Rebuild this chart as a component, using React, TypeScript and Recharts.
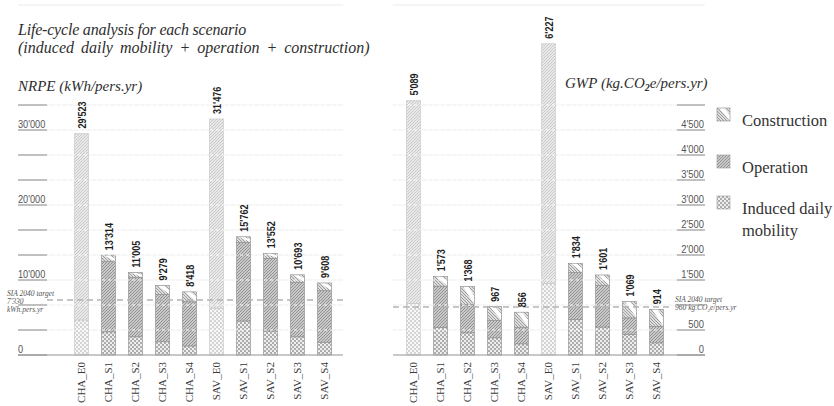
import React from "react";
import {
    BarChart,
    Bar,
    XAxis,
    YAxis,
    CartesianGrid,
    ReferenceLine,
    LabelList,
    Cell,
} from "recharts";

// =========================================
// Data
// =========================================

const scenarios = [
    "CHA_E0",
    "CHA_S1",
    "CHA_S2",
    "CHA_S3",
    "CHA_S4",
    "SAV_E0",
    "SAV_S1",
    "SAV_S2",
    "SAV_S3",
    "SAV_S4",
];

// NRPE, kWh/pers.yr
const nrpeMobility = [4670, 3100, 2450, 1780, 1200, 6220, 4530, 3200, 2440, 1690];
const nrpeOperation = [24853, 9350, 7900, 6300, 5900, 25256, 10490, 9690, 7250, 6880];
const nrpeConstruction = [0, 864, 655, 1199, 1318, 0, 742, 662, 1003, 1038];

// GWP, kg.CO2e/pers.yr
const gwpMobility = [1030, 550, 445, 345, 225, 1430, 710, 560, 410, 245];
const gwpOperation = [4059, 826, 565, 345, 332, 4797, 940, 830, 333, 330];
const gwpConstruction = [0, 197, 358, 277, 299, 0, 184, 211, 326, 339];

const nrpeTicks = [0, 3333.3, 6666.7, 10000, 13333.3, 16666.7, 20000, 23333.3, 26666.7, 30000, 33333.3];
const nrpeLabelled = [0, 10000, 20000, 30000];
const gwpTicks = [0, 500, 1000, 1500, 2000, 2500, 3000, 3500, 4000, 4500, 5000];
const gwpLabelled = [0, 500, 1500, 2000, 2500, 3000, 3500, 4000, 4500];

const nrpeTarget = 7330;
const gwpTarget = 960;

const legendItems = [
    { key: "construction", lines: ["Construction"] },
    { key: "operation", lines: ["Operation"] },
    { key: "mobility", lines: ["Induced daily", "mobility"] },
];

const nrpeData = scenarios.map((name, i) => ({
    name,
    mobility: nrpeMobility[i],
    operation: nrpeOperation[i],
    construction: nrpeConstruction[i],
}));

const gwpData = scenarios.map((name, i) => ({
    name,
    mobility: gwpMobility[i],
    operation: gwpOperation[i],
    construction: gwpConstruction[i],
}));

const nrpeTotals = nrpeData.map((d) => d.mobility + d.operation + d.construction);
const gwpTotals = gwpData.map((d) => d.mobility + d.operation + d.construction);

// =========================================
// Helpers
// =========================================

const SERIF = "'Liberation Serif', 'Times New Roman', serif";
const SANS = "'Liberation Sans', Arial, sans-serif";

const fmt = (n: number) => {
    const v = Math.round(n);
    if (v < 1000) return String(v);
    return `${Math.floor(v / 1000)}'${String(v % 1000).padStart(3, "0")}`;
};

const isExisting = (name: string) => name.endsWith("_E0");

const PatternDefs = () => (
    <defs>
        <pattern id="pat-mob" width="4" height="4" patternUnits="userSpaceOnUse">
            <rect width="4" height="4" fill="#a9a9a9" />
            <circle cx="1" cy="1" r="1.15" fill="#f2f2f2" />
            <circle cx="3" cy="3" r="1.15" fill="#f2f2f2" />
        </pattern>
        <pattern id="pat-mob-pale" width="4" height="4" patternUnits="userSpaceOnUse">
            <rect width="4" height="4" fill="#d2d2d2" />
            <circle cx="1" cy="1" r="1.15" fill="#fafafa" />
            <circle cx="3" cy="3" r="1.15" fill="#fafafa" />
        </pattern>
        <pattern id="pat-op" width="3" height="3" patternUnits="userSpaceOnUse">
            <rect width="3" height="3" fill="#c9c9c9" />
            <path d="M-1,1 L1,-1 M0,3 L3,0 M2,4 L4,2" stroke="#7a7a7a" strokeWidth="0.7" />
        </pattern>
        <pattern id="pat-op-pale" width="3" height="3" patternUnits="userSpaceOnUse">
            <rect width="3" height="3" fill="#e9e9e9" />
            <path d="M-1,1 L1,-1 M0,3 L3,0 M2,4 L4,2" stroke="#bcbcbc" strokeWidth="0.7" />
        </pattern>
        <pattern id="pat-con" width="3" height="3" patternUnits="userSpaceOnUse">
            <rect width="3" height="3" fill="#dedede" />
            <path d="M-1,2 L1,4 M0,0 L3,3 M2,-1 L4,1" stroke="#7f7f7f" strokeWidth="0.7" />
        </pattern>
    </defs>
);

// construction block: "\" hatch with a white diagonal band
const ConstructionShape = (props: any) => {
    const { x, y, width, height } = props;
    if (!height || height <= 0) return null;
    const w = width;
    const h = height;
    return (
        <g>
            <rect x={x} y={y} width={w} height={h} fill="url(#pat-con)" stroke="#8a8a8a" strokeWidth={0.6} />
            <polygon
                points={`${x + 0.2 * w},${y + 0.5} ${x + 0.58 * w},${y + 0.5} ${x + w - 0.5},${y + 0.5 * h} ${x + w - 0.5},${y + h - 0.5}`}
                fill="#ffffff"
            />
        </g>
    );
};

const totalLabel = (totals: number[]) => (props: any) => {
    const x = Number(props.x);
    const y = Number(props.y);
    const width = Number(props.width);
    const cx = x + width / 2 + 4;
    return (
        <text
            transform={`translate(${cx},${y - 5}) rotate(-90) scale(0.82,1)`}
            textAnchor="start"
            fontFamily={SANS}
            fontWeight={700}
            fontSize={11}
            fill="#1e1e1e"
        >
            {fmt(totals[props.index])}
        </text>
    );
};

const ScenarioTick = (props: any) => {
    const { x, y, payload } = props;
    return (
        <text
            transform={`translate(${x + 4},${y + 7}) rotate(-90)`}
            textAnchor="end"
            fontFamily={SERIF}
            fontSize={11}
            fill="#3a3a3a"
        >
            {payload.value}
        </text>
    );
};

const NrpeTick = (props: any) => {
    const { x, y, payload } = props;
    const v = payload.value;
    return (
        <g>
            <line x1={x} y1={y} x2={x + 29} y2={y} stroke="#8a8a8a" strokeWidth={1} />
            {nrpeLabelled.includes(v) && (
                <text
                    transform={`translate(${x},${y - 2.5}) scale(0.8,1)`}
                    textAnchor="start"
                    fontFamily={SANS}
                    fontSize={11.5}
                    fill="#555"
                >
                    {fmt(v)}
                </text>
            )}
        </g>
    );
};

const GwpTick = (props: any) => {
    const { x, y, payload } = props;
    const v = payload.value;
    return (
        <g>
            <line x1={x - 28} y1={y} x2={x} y2={y} stroke="#8a8a8a" strokeWidth={1} />
            {gwpLabelled.includes(v) && (
                <text
                    transform={`translate(${x - 1},${y - 2.5}) scale(0.82,1)`}
                    textAnchor="end"
                    fontFamily={SANS}
                    fontSize={11.5}
                    fill="#555"
                >
                    {fmt(v)}
                </text>
            )}
        </g>
    );
};

const targetText = {
    fontFamily: SERIF,
    fontStyle: "italic" as const,
    fontSize: 7.5,
    fill: "#555",
};

const NrpeTargetLine = (props: any) => {
    const left = Math.min(props.x1, props.x2);
    const right = Math.max(props.x1, props.x2);
    const y = props.y1;
    return (
        <g>
            <line x1={left + 29} y1={y} x2={right} y2={y} stroke="#b4b4b4" strokeWidth={1.6} strokeDasharray="6 4" />
            <text x={left - 11} y={y - 4} {...targetText}>SIA 2040 target</text>
            <text x={left - 11} y={y + 4} {...targetText}>{fmt(nrpeTarget)}</text>
            <text x={left - 11} y={y + 12} {...targetText}>kWh.pers.yr</text>
        </g>
    );
};

const GwpTargetLine = (props: any) => {
    const left = Math.min(props.x1, props.x2);
    const right = Math.max(props.x1, props.x2);
    const y = props.y1;
    return (
        <g>
            <line x1={left} y1={y} x2={right - 32} y2={y} stroke="#b4b4b4" strokeWidth={1.6} strokeDasharray="6 4" />
            <text x={right - 30} y={y - 5} {...targetText}>SIA 2040 target</text>
            <text x={right - 30} y={y + 3} {...targetText}>
                {fmt(gwpTarget)} kg.CO<tspan dy={1.5} fontSize={5}>2</tspan>
                <tspan dy={-1.5}>e/pers.yr</tspan>
            </text>
        </g>
    );
};

// =========================================
// Charts
// =========================================

function NrpeChart() {
    return (
        <BarChart
            width={380}
            height={406}
            data={nrpeData}
            margin={{ top: 5, right: 37, bottom: 0, left: 17 }}
            barSize={14}
        >
            <CartesianGrid vertical={false} stroke="#ebebeb" />
            <XAxis
                dataKey="name"
                height={51}
                padding={{ left: 49.5, right: 5.5 }}
                axisLine={{ stroke: "#9c9c9c" }}
                tickLine={false}
                tickSize={0}
                tickMargin={0}
                interval={0}
                tick={<ScenarioTick />}
            />
            <YAxis
                width={1}
                domain={[0, 140000 / 3]}
                ticks={nrpeTicks}
                interval={0}
                axisLine={false}
                tickLine={false}
                tickSize={0}
                tickMargin={0}
                tick={<NrpeTick />}
            />
            <Bar dataKey="mobility" stackId="a" name="Induced daily mobility" stroke="#8a8a8a" strokeWidth={0.6} isAnimationActive={false}>
                {nrpeData.map((d) => (
                    <Cell key={d.name} fill={isExisting(d.name) ? "url(#pat-mob-pale)" : "url(#pat-mob)"} stroke={isExisting(d.name) ? "#c4c4c4" : "#8a8a8a"} />
                ))}
            </Bar>
            <Bar dataKey="operation" stackId="a" name="Operation" stroke="#8a8a8a" strokeWidth={0.6} isAnimationActive={false}>
                {nrpeData.map((d) => (
                    <Cell key={d.name} fill={isExisting(d.name) ? "url(#pat-op-pale)" : "url(#pat-op)"} stroke={isExisting(d.name) ? "#c4c4c4" : "#8a8a8a"} />
                ))}
            </Bar>
            <Bar dataKey="construction" stackId="a" name="Construction" shape={<ConstructionShape />} isAnimationActive={false}>
                <LabelList dataKey="construction" content={totalLabel(nrpeTotals)} />
            </Bar>
            {nrpeTicks.slice(1).map((t) => (
                <ReferenceLine key={t} y={t} stroke="#ffffff" strokeDasharray="3 3" strokeOpacity={0.9} />
            ))}
            <ReferenceLine y={nrpeTarget} shape={<NrpeTargetLine />} />
        </BarChart>
    );
}

function GwpChart() {
    return (
        <BarChart
            width={454}
            height={406}
            data={gwpData}
            margin={{ top: 5, right: 128, bottom: 0, left: 13 }}
            barSize={14}
        >
            <CartesianGrid vertical={false} stroke="#ebebeb" />
            <XAxis
                dataKey="name"
                height={51}
                padding={{ left: 6.5, right: 35.5 }}
                axisLine={{ stroke: "#9c9c9c" }}
                tickLine={false}
                tickSize={0}
                tickMargin={0}
                interval={0}
                tick={<ScenarioTick />}
            />
            <YAxis
                orientation="right"
                width={1}
                domain={[0, 7000]}
                ticks={gwpTicks}
                interval={0}
                axisLine={false}
                tickLine={false}
                tickSize={0}
                tickMargin={0}
                tick={<GwpTick />}
            />
            <Bar dataKey="mobility" stackId="a" name="Induced daily mobility" stroke="#8a8a8a" strokeWidth={0.6} isAnimationActive={false}>
                {gwpData.map((d) => (
                    <Cell key={d.name} fill={isExisting(d.name) ? "url(#pat-mob-pale)" : "url(#pat-mob)"} stroke={isExisting(d.name) ? "#c4c4c4" : "#8a8a8a"} />
                ))}
            </Bar>
            <Bar dataKey="operation" stackId="a" name="Operation" stroke="#8a8a8a" strokeWidth={0.6} isAnimationActive={false}>
                {gwpData.map((d) => (
                    <Cell key={d.name} fill={isExisting(d.name) ? "url(#pat-op-pale)" : "url(#pat-op)"} stroke={isExisting(d.name) ? "#c4c4c4" : "#8a8a8a"} />
                ))}
            </Bar>
            <Bar dataKey="construction" stackId="a" name="Construction" shape={<ConstructionShape />} isAnimationActive={false}>
                <LabelList dataKey="construction" content={totalLabel(gwpTotals)} />
            </Bar>
            {gwpTicks.slice(1).map((t) => (
                <ReferenceLine key={t} y={t} stroke="#ffffff" strokeDasharray="3 3" strokeOpacity={0.9} />
            ))}
            <ReferenceLine y={gwpTarget} shape={<GwpTargetLine />} />
        </BarChart>
    );
}

const legendIcon: Record<string, string> = {
    construction: "url(#pat-con)",
    operation: "url(#pat-op)",
    mobility: "url(#pat-mob)",
};

// titles, legend and shared pattern defs
function Backdrop() {
    const legendTops = [108, 155, 196];
    return (
        <svg width={834} height={406} style={{ position: "absolute", left: 0, top: 0 }}>
            <PatternDefs />
            <g fontFamily={SERIF} fontStyle="italic" fill="#2e2e2e">
                <text x={18} y={35} fontSize={16} letterSpacing={-0.2}>Life-cycle analysis for each scenario</text>
                <text x={18} y={53} fontSize={16} wordSpacing={3}>(induced daily mobility + operation + construction)</text>
                <text x={18} y={91} fontSize={15}>NRPE (kWh/pers.yr)</text>
                <text x={565} y={88} fontSize={15}>
                    GWP (kg.CO<tspan dy={3} fontSize={10} fontWeight={700}>2</tspan>
                    <tspan dy={-3}>e/pers.yr)</tspan>
                </text>
            </g>
            {legendItems.map((item, i) => (
                <g key={item.key}>
                    {item.key === "construction" ? (
                        <ConstructionShape x={717} y={legendTops[i]} width={13} height={13} />
                    ) : (
                        <rect x={717} y={legendTops[i]} width={13} height={13} fill={legendIcon[item.key]} stroke="#9a9a9a" strokeWidth={0.6} />
                    )}
                    {item.lines.map((line, j) => (
                        <text key={line} x={742} y={legendTops[i] + 18 + j * 22} fontFamily={SERIF} fontSize={16.5} fill="#333">
                            {line}
                        </text>
                    ))}
                </g>
            ))}
        </svg>
    );
}

export default function App() {
    return (
        <div style={{ position: "absolute", left: 0, top: 0, width: 834, height: 406, background: "#fff", overflow: "hidden" }}>
            <Backdrop />
            <div style={{ position: "absolute", left: 0, top: 0 }}>
                <NrpeChart />
            </div>
            <div style={{ position: "absolute", left: 380, top: 0 }}>
                <GwpChart />
            </div>
        </div>
    );
}
